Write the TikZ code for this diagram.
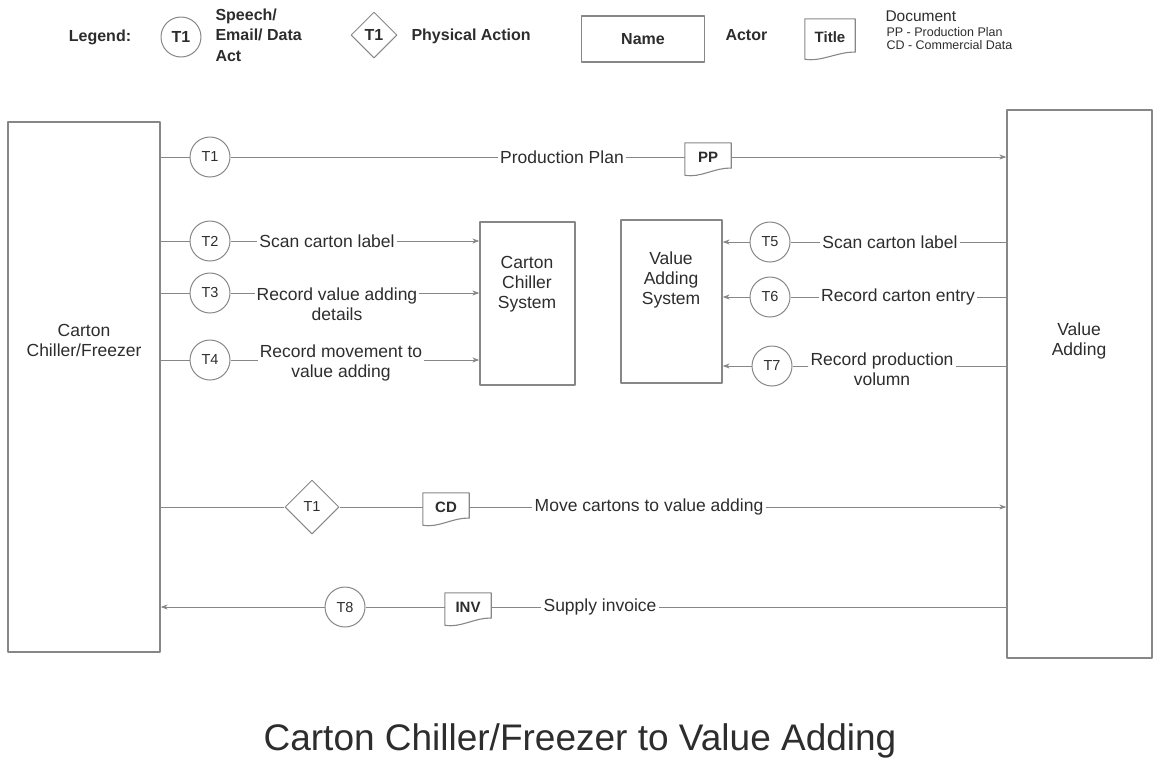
\documentclass[tikz,border=0pt]{standalone}
\usepackage{fontspec}
\setmainfont{Liberation Sans}
\usetikzlibrary{arrows.meta,shapes.geometric,calc}
\definecolor{linegray}{RGB}{135,135,135}
\definecolor{txtgray}{RGB}{45,45,45}
\begin{document}
\begin{tikzpicture}[x=1pt, y=-1pt, line join=round, >={Stealth[length=7pt,width=5pt]},
    every node/.style={text=txtgray, font=\fontsize{17.5}{20}\selectfont},
    actor/.style={draw=linegray, line width=1.3pt, fill=white, inner sep=0pt},
    tcirc/.style={draw=linegray, line width=1pt, circle, minimum size=40pt, inner sep=0pt, font=\fontsize{14.5}{16}\selectfont},
    tdiam/.style={draw=linegray, line width=1pt, diamond, minimum size=54pt, inner sep=0pt, font=\fontsize{14.5}{16}\selectfont},
    docnode/.style={minimum width=46pt, minimum height=28pt, inner sep=0pt, font=\bfseries\fontsize{15}{17}\selectfont},
    msg/.style={inner sep=2pt, align=center},
    flow/.style={draw=linegray, line width=0.9pt},
    legtxt/.style={font=\bfseries\fontsize{16}{20.5}\selectfont}]
    \useasboundingbox (0,0) rectangle (1160,772);
    % legend
    \node[legtxt] (leg) at (100,37) {Legend:};
    \node[tcirc, font=\bfseries\fontsize{16}{18}\selectfont] (lcirc) at (181,37) {T1};
    \node[legtxt, anchor=west, align=left] (lspeech) at (212,35) {Speech/\\Email/ Data\\Act};
    \node[tdiam, minimum size=46pt, font=\bfseries\fontsize{16}{18}\selectfont] (ldiam) at (374,35) {T1};
    \node[legtxt, anchor=west] (lphys) at (408,36) {Physical Action};
    \node[actor, legtxt, minimum width=123pt, minimum height=46pt] (lname) at (643,39) {Name};
    \node[legtxt, anchor=west] (lactor) at (722,35) {Actor};
    \node[docnode, minimum width=50pt, minimum height=36pt] (ldoc) at (830,37) {Title};
    \node[anchor=west, font=\fontsize{15.5}{18}\selectfont] (ldocum) at (882,16) {Document};
    \node[anchor=west, font=\fontsize{12.5}{14}\selectfont] (lpp) at (883,32) {PP - Production Plan};
    \node[anchor=west, font=\fontsize{12.5}{14}\selectfont] (lcd) at (883,45) {CD - Commercial Data};
    % actors and systems
    \node[actor, minimum width=152pt, minimum height=530pt] (ccf) at (84,387) {};
    \node[msg] (ccftxt) at (84,340) {Carton\\Chiller/Freezer};
    \node[actor, minimum width=145pt, minimum height=548pt] (va) at (1079.5,384) {};
    \node[msg] (vatxt) at (1079,341) {Value\\Adding};
    \node[actor, minimum width=95pt, minimum height=163pt] (ccs) at (527.5,303.5) {};
    \node[msg] (ccstxt) at (527,284) {Carton\\Chiller\\System};
    \node[actor, minimum width=101pt, minimum height=163pt] (vas) at (671.5,301.5) {};
    \node[msg] (vastxt) at (671,280) {Value\\Adding\\System};
    % acts
    \foreach \n/\x/\y/\t in {t1/210/157/T1, t2/210/241/T2, t3/210/293/T3, t4/210/360/T4,
        t5/770/242/T5, t6/770/297/T6, t7/772/366/T7, t8/345/607/T8}
        \node[tcirc] (\n) at (\x,\y) {\t};
    \node[tdiam] (mv) at (312,507) {T1};
    % documents
    \node[docnode] (pp) at (708,157) {PP};
    \node[docnode] (cd) at (446,507) {CD};
    \node[docnode] (inv) at (468,607) {INV};
    \foreach \d in {ldoc,pp,cd,inv}
        \draw[draw=linegray, line width=1.1pt] (\d.north west) -- (\d.north east) -- ($(\d.south east)+(0,-3)$)
            .. controls +(-16,-1) and +(16,3) .. ($(\d.south west)+(0,4)$) -- cycle;
    % message labels
    \node[msg] (lprod) at (562,157) {Production Plan};
    \node[msg] (l2) at (327,241) {Scan carton label};
    \node[msg] (l3) at (337,304) {Record value adding\\details};
    \node[msg] (l4) at (341,363) {Record movement to\\value adding};
    \node[msg] (l5) at (890,242) {Scan carton label};
    \node[msg] (l6) at (898,297) {Record carton entry};
    \node[msg] (l7) at (882,369) {Record production\\volumn};
    \node[msg] (lmv) at (649,507) {Move cartons to value adding};
    \node[msg] (linv) at (600,607) {Supply invoice};
    % connectors
    \draw[flow,->] (ccf.east|-t1) -- (t1) -- (lprod) -- (pp) -- (va.west|-t1);
    \draw[flow,->] (ccf.east|-t2) -- (t2) -- (l2) -- (ccs.west|-t2);
    \draw[flow] (ccf.east|-t3) -- (t3) -- (l3.west|-t3);
    \draw[flow,->] (l3.east|-t3) -- (ccs.west|-t3);
    \draw[flow] (ccf.east|-t4) -- (t4) -- (l4.west|-t4);
    \draw[flow,->] (l4.east|-t4) -- (ccs.west|-t4);
    \draw[flow,->] (va.west|-t5) -- (l5) -- (t5) -- (vas.east|-t5);
    \draw[flow,->] (va.west|-t6) -- (l6) -- (t6) -- (vas.east|-t6);
    \draw[flow] (va.west|-t7) -- (l7.east|-t7);
    \draw[flow,->] (l7.west|-t7) -- (t7) -- (vas.east|-t7);
    \draw[flow,->] (ccf.east|-mv) -- (mv) -- (cd) -- (lmv) -- (va.west|-mv);
    \draw[flow,->] (va.west|-t8) -- (linv) -- (inv) -- (t8) -- (ccf.east|-t8);
    % title
    \node[font=\fontsize{37}{40}\selectfont] (title) at (580,741) {Carton Chiller/Freezer to Value Adding};
\end{tikzpicture}
\end{document}
